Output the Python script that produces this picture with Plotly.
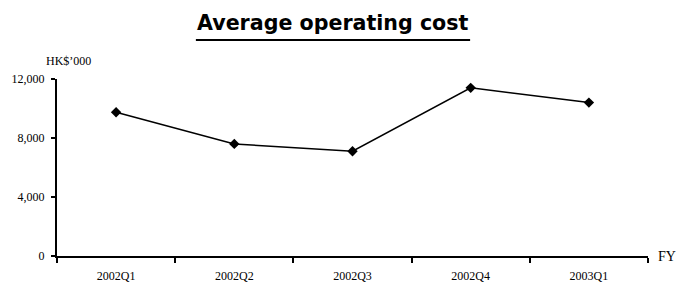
import plotly.graph_objects as go

quarters = ["2002Q1", "2002Q2", "2002Q3", "2002Q4", "2003Q1"]
avg_cost = [9750, 7600, 7100, 11400, 10400]
y_ticks = [0, 4000, 8000, 12000]
y_tick_text = ["0", "4,000", "8,000", "12,000"]

serif = "Liberation Serif"

fig = go.Figure()
fig.add_trace(go.Scatter(
    x=quarters, y=avg_cost, mode="lines+markers",
    line=dict(color="black", width=1.5),
    marker=dict(symbol="diamond", size=8, color="black"),
    showlegend=False, hoverinfo="x+y",
))

fig.update_layout(
    width=677, height=282,
    margin=dict(l=57, r=29, t=79, b=26),
    paper_bgcolor="white", plot_bgcolor="white",
    font=dict(family=serif, size=12, color="black"),
    xaxis=dict(
        type="category", range=[-0.5, 4.5], automargin=False,
        tickson="boundaries", ticks="outside", ticklen=5, tickwidth=1.5, tickcolor="black",
        showline=True, linecolor="black", linewidth=2, showgrid=False,
        tickfont=dict(family=serif, size=12, color="black"),
        ticklabelstandoff=8,
    ),
    yaxis=dict(
        range=[0, 12000], tickvals=y_ticks, ticktext=y_tick_text, automargin=False,
        ticks="outside", ticklen=4, tickwidth=1.5, tickcolor="black",
        showline=True, linecolor="black", linewidth=2, showgrid=False, zeroline=False,
        tickfont=dict(family=serif, size=12, color="black"),
        ticklabelstandoff=4,
    ),
    annotations=[
        dict(text="<b>Average operating cost</b>", xref="paper", yref="paper",
             x=0.5 * (0.235 + 0.699), y=1.318, xanchor="center", yanchor="middle",
             showarrow=False, font=dict(family="DejaVu Sans", size=20.6, color="black")),
        dict(text="HK$\u2019000", xref="paper", yref="paper", x=0.0195, y=1.102,
             xanchor="center", yanchor="middle", showarrow=False,
             font=dict(family=serif, size=12, color="black")),
        dict(text="FY", xref="paper", yref="paper", x=1.013, y=0.0,
             xanchor="left", yanchor="middle", showarrow=False,
             font=dict(family=serif, size=14, color="black")),
    ],
    shapes=[
        dict(type="line", xref="paper", yref="paper", x0=0.235, x1=0.699,
             y0=1.22, y1=1.22, line=dict(color="black", width=2)),
    ],
)

fig.write_html("out.html", config={"displayModeBar": False},
               post_script="document.body.style.margin='0';")
